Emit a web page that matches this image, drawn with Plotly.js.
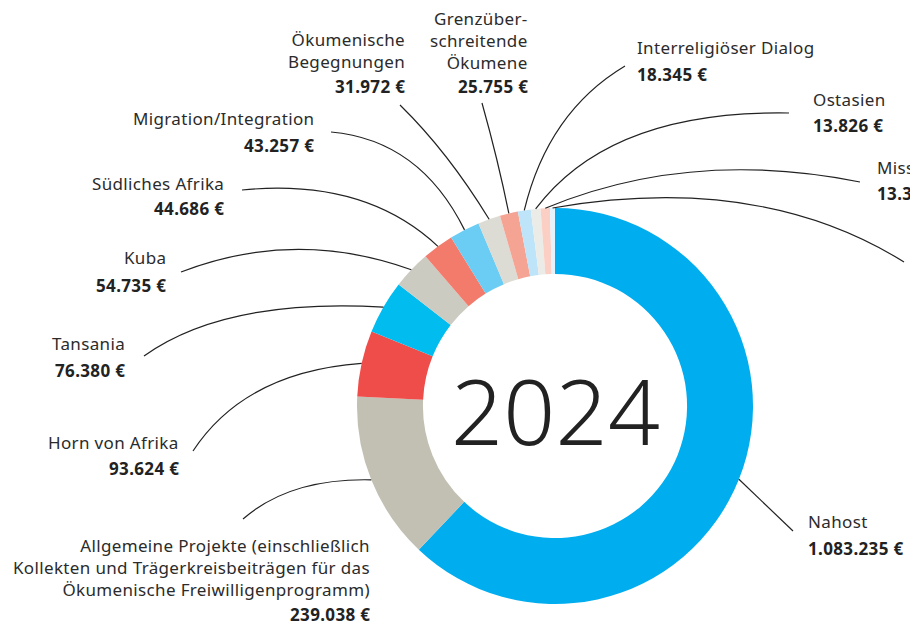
<!DOCTYPE html>
<html>
<head>
<meta charset="utf-8">
<script src="https://cdn.plot.ly/plotly-3.0.1.min.js"></script>
<style>
  html, body { margin: 0; padding: 0; background: #fff; }
  #chart { width: 910px; height: 627px; }
  .annotation-text { letter-spacing: 0.35px; }
  .annotation-text b { letter-spacing: 1px; }
</style>
</head>
<body>
<div id="chart"></div>
<script>
// Spenden nach Projektbereichen 2024
var categories = [
    'Nahost',
    'Allgemeine Projekte (einschließlich<br>Kollekten und Trägerkreisbeiträgen für das<br>Ökumenische Freiwilligenprogramm)',
    'Horn von Afrika',
    'Tansania',
    'Kuba',
    'Südliches Afrika',
    'Migration/Integration',
    'Ökumenische<br>Begegnungen',
    'Grenzüber-<br>schreitende<br>Ökumene',
    'Interreligiöser Dialog',
    'Ostasien',
    'Mission',
    'Weitere'
];
var values = [1083235, 239038, 93624, 76380, 54735, 44686, 43257, 31972, 25755, 18345, 13826, 13300, 7000];
var colors = ['#00adef', '#c2bfb3', '#ef4d4a', '#00bcef', '#cccbc2', '#f27b6c', '#6bcdf4',
              '#dcdbd4', '#f5a493', '#bde4f8', '#ebebe7', '#fbcfc4', '#e3f2fb'];
var yearLabel = '2024';

// label placement (pixels): x, name centre y, value centre y, anchor, line end, curve control
var place = [
    {x: 806, y1: 521, y2: 548, a: 'left',  end: [793, 531], ctrl: null},
    {x: 372, y1: 567, y2: 614, a: 'right', end: [243, 519], ctrl: [290, 478]},
    {x: 181, y1: 442, y2: 468, a: 'right', end: [193, 451], ctrl: [245, 372]},
    {x: 127, y1: 343, y2: 370, a: 'right', end: [144, 356], ctrl: [225, 298]},
    {x: 168, y1: 258, y2: 285, a: 'right', end: [181, 272], ctrl: [295, 228]},
    {x: 226, y1: 183, y2: 208, a: 'right', end: [242, 190], ctrl: [365, 178]},
    {x: 316, y1: 118, y2: 145, a: 'right', end: [331, 132], ctrl: [420, 140]},
    {x: 407, y1: 50,  y2: 87,  a: 'right', end: [400, 105], ctrl: [448, 152]},
    {x: 530, y1: 40,  y2: 87,  a: 'right', end: [482, 103], ctrl: [498, 160]},
    {x: 635, y1: 48,  y2: 74,  a: 'left',  end: [625, 66],  ctrl: [548, 112]},
    {x: 811, y1: 100, y2: 126, a: 'left',  end: [789, 113], ctrl: [610, 110]},
    {x: 875, y1: 167, y2: 193, a: 'left',  end: [860, 182], ctrl: [690, 148]},
    {x: null, end: [904, 262], ctrl: [760, 172]}   // label lies outside the picture
];

var W = 910, H = 627;
var cx = 555, cy = 406, R = 198;
function px(x) { return x / W; }
function py(y) { return 1 - y / H; }
function euro(v) { return String(v).replace(/\B(?=(\d{3})+(?!\d))/g, '.') + ' €'; }

var total = values.reduce(function (s, v) { return s + v; }, 0);

var annotations = [];
var shapes = [];
var acc = 0;
for (var i = 0; i < values.length; i++) {
    var mid = (acc + values[i] / 2) / total * 2 * Math.PI;
    acc += values[i];
    var sx = cx + R * Math.sin(mid);
    var sy = cy - R * Math.cos(mid);
    var p = place[i];
    var c = p.ctrl || [(sx + p.end[0]) / 2, (sy + p.end[1]) / 2];
    shapes.push({
        type: 'path', xref: 'paper', yref: 'paper',
        path: 'M ' + px(sx) + ',' + py(sy) + ' Q ' + px(c[0]) + ',' + py(c[1]) + ' ' + px(p.end[0]) + ',' + py(p.end[1]),
        line: {color: '#222222', width: 1.2}
    });
    if (p.x === null) continue;
    annotations.push({
        text: categories[i], x: px(p.x), y: py(p.y1), xref: 'paper', yref: 'paper',
        xanchor: p.a, yanchor: 'middle', align: p.a, showarrow: false,
        font: {family: 'Noto Sans', size: 17, color: '#2b2b2b'}
    });
    annotations.push({
        text: '<b>' + euro(values[i]) + '</b>', x: px(p.x), y: py(p.y2), xref: 'paper', yref: 'paper',
        xanchor: p.a, yanchor: 'middle', align: p.a, showarrow: false,
        font: {family: 'Noto Sans', size: 17, color: '#222222'}
    });
}

annotations.push({
    text: yearLabel, x: px(cx), y: py(410), xref: 'paper', yref: 'paper',
    xanchor: 'center', yanchor: 'middle', showarrow: false,
    font: {family: 'Noto Sans', size: 91, weight: 300, color: '#222222'}
});

var data = [
    {
        type: 'pie',
        values: values,
        labels: categories,
        sort: false,
        direction: 'clockwise',
        rotation: 0,
        hole: 0.667,
        textinfo: 'none',
        marker: {colors: colors, line: {width: 0}},
        domain: {x: [px(cx - R), px(cx + R)], y: [py(cy + R), py(cy - R)]},
        showlegend: false
    }
];

var layout = {
    width: W,
    height: H,
    margin: {l: 0, r: 0, t: 0, b: 0},
    paper_bgcolor: '#ffffff',
    showlegend: false,
    annotations: annotations,
    shapes: shapes
};

Plotly.newPlot('chart', data, layout, {displayModeBar: false, staticPlot: true});
</script>
</body>
</html>
